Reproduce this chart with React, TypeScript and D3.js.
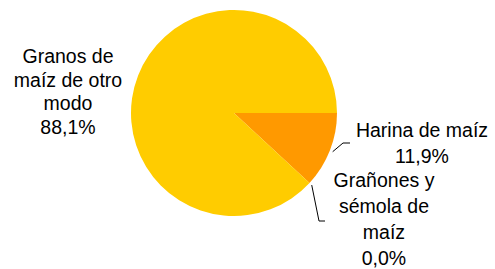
import { useMemo } from 'react';
import * as d3 from 'd3';

// Pie data (share of total, %)
const categories = ['Harina de maíz', 'Grañones y sémola de maíz', 'Granos de maíz de otro modo'];
const shares = [11.9, 0.0, 88.1];
const shareLabels = ['11,9%', '0,0%', '88,1%'];
const labelLines = [
  ['Harina de maíz'],
  ['Grañones y', 'sémola de', 'maíz'],
  ['Granos de', 'maíz de otro', 'modo'],
];
const colors = ['#FF9900', '#FFB300', '#FFCC00'];

const WIDTH = 495;
const HEIGHT = 269;
const CX = 234;
const CY = 113;
const R = 103;

// label placement: text centre x, first baseline y, line height, optional leader elbow
const labelLayout = [
  { x: 422, y: 137, lh: 26, elbow: [343, 143], end: [350, 143] },
  { x: 384, y: 187, lh: 26, elbow: [319, 221], end: [325, 221] },
  { x: 68, y: 63, lh: 23.5, elbow: null, end: null },
];

export default function App() {
  const arcs = useMemo(() => {
    const pie = d3
      .pie<number>()
      .sort(null)
      .value((d) => d)
      .startAngle(Math.PI / 2)
      .endAngle(Math.PI / 2 + 2 * Math.PI);
    return pie(shares);
  }, []);

  const arc = d3.arc<d3.PieArcDatum<number>>().innerRadius(0).outerRadius(R);

  return (
    <svg
      width={WIDTH}
      height={HEIGHT}
      style={{ position: 'absolute', left: 0, top: 0, background: '#fff' }}
      fontFamily="'Liberation Sans', Arial, sans-serif"
    >
      <g transform={`translate(${CX},${CY})`}>
        {arcs.map((a, i) => (
          <path key={categories[i]} d={arc(a) || ''} fill={colors[i]} />
        ))}
      </g>

      {arcs.map((a, i) => {
        const lay = labelLayout[i];
        const lines = [...labelLines[i], shareLabels[i]];
        let leader = null;
        if (lay.elbow && lay.end) {
          const mid = (a.startAngle + a.endAngle) / 2;
          const sx = CX + (R + 3) * Math.sin(mid);
          const sy = CY - (R + 3) * Math.cos(mid);
          leader = (
            <polyline
              points={`${sx},${sy} ${lay.elbow[0]},${lay.elbow[1]} ${lay.end[0]},${lay.end[1]}`}
              fill="none"
              stroke="#000"
              strokeWidth={1}
            />
          );
        }
        return (
          <g key={categories[i] + '-label'}>
            {leader}
            <text textAnchor="middle" fontSize={19.5} fill="#000">
              {lines.map((t, j) => (
                <tspan key={j} x={lay.x} y={lay.y + j * lay.lh}>
                  {t}
                </tspan>
              ))}
            </text>
          </g>
        );
      })}
    </svg>
  );
}
